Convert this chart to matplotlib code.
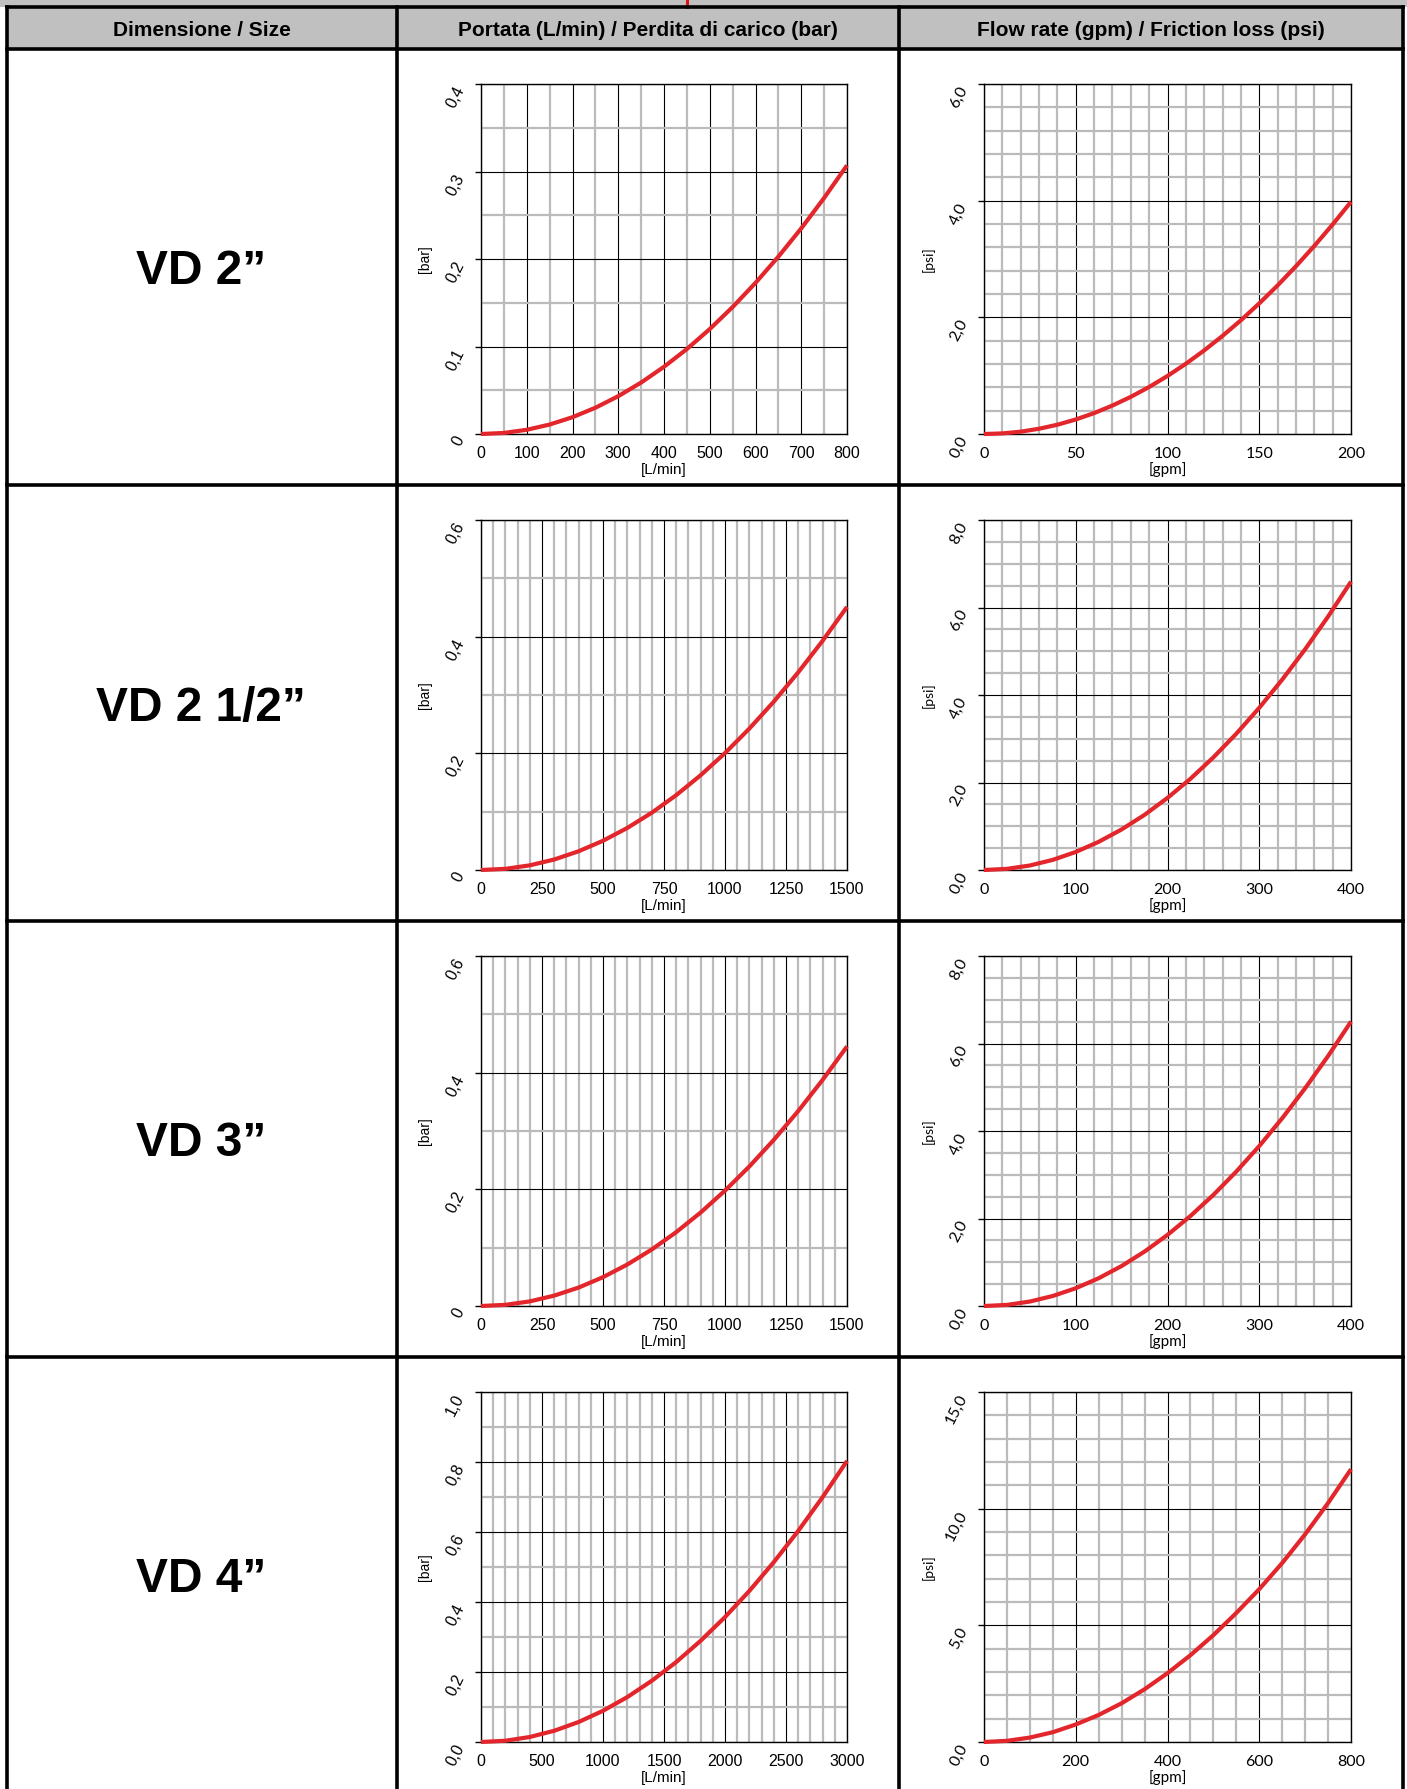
import matplotlib.pyplot as plt
from matplotlib.patches import Rectangle

W, H = 1407, 1789

headers = ['Dimensione / Size',
           'Portata (L/min) / Perdita di carico (bar)',
           'Flow rate (gpm) / Friction loss (psi)']
sizes = ['VD 2\u201d', 'VD 2 1/2\u201d', 'VD 3\u201d', 'VD 4\u201d']

# --- metric curves: flow [L/min] vs pressure drop [bar] ---
lmin_vd2 = [0, 50, 100, 150, 200, 250, 300, 350, 400, 450, 500, 550, 600, 650, 700, 750, 800]
bar_vd2 = [0, 0.0012, 0.0048, 0.0108, 0.0192, 0.030, 0.0432, 0.0588, 0.0768, 0.0971,
           0.1199, 0.1451, 0.1727, 0.2027, 0.235, 0.2698, 0.307]

lmin_vd25 = [0, 100, 200, 300, 400, 500, 600, 700, 800, 900, 1000, 1100, 1200, 1300, 1400, 1500]
bar_vd25 = [0, 0.002, 0.008, 0.018, 0.0321, 0.0501, 0.0722, 0.0982, 0.1283, 0.1624,
            0.2004, 0.2425, 0.2886, 0.3388, 0.3929, 0.451]

lmin_vd3 = [0, 100, 200, 300, 400, 500, 600, 700, 800, 900, 1000, 1100, 1200, 1300, 1400, 1500]
bar_vd3 = [0, 0.002, 0.0079, 0.0178, 0.0316, 0.0494, 0.0712, 0.0969, 0.1266, 0.1602,
           0.1978, 0.2393, 0.2848, 0.3342, 0.3876, 0.445]

lmin_vd4 = [0, 200, 400, 600, 800, 1000, 1200, 1400, 1600, 1800, 2000, 2200, 2400, 2600, 2800, 3000]
bar_vd4 = [0, 0.0036, 0.0143, 0.0321, 0.0571, 0.0892, 0.1285, 0.1749, 0.2284, 0.2891,
           0.3569, 0.4318, 0.5139, 0.6031, 0.6995, 0.803]

# --- imperial curves: flow [gpm] vs friction loss [psi] ---
gpm_vd2 = [0, 10, 20, 30, 40, 50, 60, 70, 80, 90, 100, 110, 120, 130, 140, 150, 160, 170, 180, 190, 200]
psi_vd2 = [0, 0.01, 0.04, 0.09, 0.159, 0.249, 0.358, 0.488, 0.637, 0.806, 0.995, 1.204,
           1.433, 1.682, 1.95, 2.239, 2.547, 2.876, 3.224, 3.592, 3.98]

gpm_vd25 = [0, 25, 50, 75, 100, 125, 150, 175, 200, 225, 250, 275, 300, 325, 350, 375, 400]
psi_vd25 = [0, 0.026, 0.103, 0.232, 0.412, 0.644, 0.927, 1.261, 1.648, 2.085, 2.574,
            3.115, 3.707, 4.351, 5.045, 5.792, 6.59]

gpm_vd3 = [0, 25, 50, 75, 100, 125, 150, 175, 200, 225, 250, 275, 300, 325, 350, 375, 400]
psi_vd3 = [0, 0.025, 0.102, 0.229, 0.406, 0.635, 0.914, 1.244, 1.625, 2.057, 2.539,
           3.073, 3.656, 4.291, 4.977, 5.713, 6.5]

gpm_vd4 = [0, 50, 100, 150, 200, 250, 300, 350, 400, 450, 500, 550, 600, 650, 700, 750, 800]
psi_vd4 = [0, 0.05, 0.19, 0.42, 0.75, 1.16, 1.66, 2.26, 2.95, 3.72, 4.58, 5.53, 6.55,
           7.67, 8.9, 10.24, 11.69]

# y tick labels (comma decimals as in the original)
bar_ticks = [[0, 0.1, 0.2, 0.3, 0.4], [0, 0.2, 0.4, 0.6], [0, 0.2, 0.4, 0.6],
             [0, 0.2, 0.4, 0.6, 0.8, 1.0]]
bar_labels = [['0', '0,1', '0,2', '0,3', '0,4'], ['0', '0,2', '0,4', '0,6'],
              ['0', '0,2', '0,4', '0,6'], ['0,0', '0,2', '0,4', '0,6', '0,8', '1,0']]
psi_ticks = [[0, 2, 4, 6], [0, 2, 4, 6, 8], [0, 2, 4, 6, 8], [0, 5, 10, 15]]
psi_labels = [['0,0', '2,0', '4,0', '6,0'], ['0,0', '2,0', '4,0', '6,0', '8,0'],
              ['0,0', '2,0', '4,0', '6,0', '8,0'], ['0,0', '5,0', '10,0', '15,0']]

metric = [
    dict(x=lmin_vd2, y=bar_vd2, xmax=800, xmaj=100, xmin=50, ymin=0.05),
    dict(x=lmin_vd25, y=bar_vd25, xmax=1500, xmaj=250, xmin=50, ymin=0.1),
    dict(x=lmin_vd3, y=bar_vd3, xmax=1500, xmaj=250, xmin=50, ymin=0.1),
    dict(x=lmin_vd4, y=bar_vd4, xmax=3000, xmaj=500, xmin=100, ymin=0.1),
]
imperial = [
    dict(x=gpm_vd2, y=psi_vd2, xmax=200, xmaj=50, xmin=10, ymin=0.4),
    dict(x=gpm_vd25, y=psi_vd25, xmax=400, xmaj=100, xmin=20, ymin=0.5),
    dict(x=gpm_vd3, y=psi_vd3, xmax=400, xmaj=100, xmin=20, ymin=0.5),
    dict(x=gpm_vd4, y=psi_vd4, xmax=800, xmaj=200, xmin=50, ymin=1.0),
]

RED = '#E3262B'
GRID = '#BBBBBB'

fig = plt.figure(figsize=(W / 100, H / 100), dpi=100)

# background "table" drawn in pixel coordinates
bg = fig.add_axes([0, 0, 1, 1])
bg.set_xlim(0, W)
bg.set_ylim(H, 0)
bg.axis('off')
bg.set_zorder(-1)

row_top = [49, 485, 921, 1357]
col_x = [7, 397, 899, 1403]

bg.add_patch(Rectangle((0, 0), W, 7, color='#C0C0C0', lw=0))
bg.add_patch(Rectangle((7, 7), 1396, 42, color='#C0C0C0', lw=0))
bg.plot([687, 687], [0, 7], color='#E0101A', lw=2.2)

for y in [7, 49] + row_top[1:]:
    bg.plot([7, 1403], [y, y], color='black', lw=2.6, solid_capstyle='projecting')
for x in col_x:
    bg.plot([x, x], [7, H], color='black', lw=2.6, solid_capstyle='projecting')

for i, t in enumerate(headers):
    cx = (col_x[i] + col_x[i + 1]) / 2
    bg.text(cx, 30, t, ha='center', va='center', fontsize=15, fontweight='bold',
            family='Liberation Sans')

for i, s in enumerate(sizes):
    cy = row_top[i] + 223
    bg.text(201, cy, s, ha='center', va='center', fontsize=34.5, fontweight='bold',
            family='Liberation Sans')


def px_axes(x0, y0, w, h):
    return fig.add_axes([x0 / W, 1 - (y0 + h) / H, w / W, h / H])


def draw_panel(ax, p, yticks, ylabels, xlabel, ylabel, font):
    ymax = yticks[-1]
    ax.set_xlim(0, p['xmax'])
    ax.set_ylim(0, ymax)
    ax.set_xticks(range(0, p['xmax'] + 1, p['xmaj']))
    ax.set_xticks(range(0, p['xmax'] + 1, p['xmin']), minor=True)
    ax.set_yticks(yticks)
    n = int(round(ymax / p['ymin']))
    ax.set_yticks([k * p['ymin'] for k in range(n + 1)], minor=True)
    ax.set_yticklabels(ylabels, rotation=63, ha='right', va='top',
                       fontsize=11.5, family=font)
    for lab in ax.get_xticklabels():
        lab.set_fontsize(11.5)
        lab.set_family(font)
    ax.grid(which='minor', color=GRID, lw=1.6, zorder=0)
    ax.grid(which='major', color='black', lw=0.8, zorder=1)
    ax.set_axisbelow(True)
    ax.tick_params(axis='x', which='both', length=0, pad=9)
    ax.tick_params(axis='y', which='major', length=4, width=1, pad=6)
    ax.tick_params(axis='y', which='minor', length=0)
    for sp in ax.spines.values():
        sp.set_linewidth(1)
        sp.set_color('black')
    ax.plot(p['x'], p['y'], color=RED, lw=3, clip_on=False, zorder=3,
            solid_capstyle='butt')
    ax.set_xlabel(xlabel, fontsize=11, family=font, labelpad=1)
    ax.set_ylabel(ylabel, fontsize=10, family=font)
    ax.yaxis.set_label_coords(-0.135, 0.5)


for i in range(4):
    top = row_top[i] + 35
    axl = px_axes(481, top, 366, 350)
    draw_panel(axl, metric[i], bar_ticks[i], bar_labels[i], '[L/min]', '[bar]',
               'Liberation Sans')
    axr = px_axes(984, top, 367, 350)
    draw_panel(axr, imperial[i], psi_ticks[i], psi_labels[i], '[gpm]', '[psi]', 'Lato')

fig.savefig('out.png', dpi=100)
